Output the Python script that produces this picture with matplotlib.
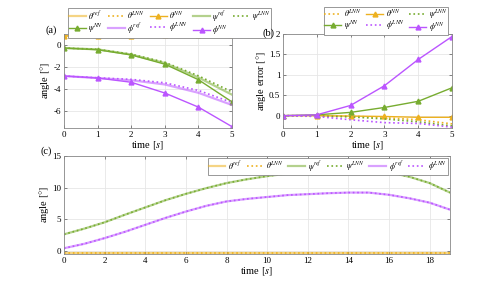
import numpy as np
import matplotlib
matplotlib.use('Agg')
import matplotlib.pyplot as plt

plt.rcParams['font.family'] = ['Liberation Serif', 'DejaVu Serif']
plt.rcParams['mathtext.fontset'] = 'stix'
plt.rcParams['axes.unicode_minus'] = False

# couleurs
c_th = '#EDB120'
c_psi = '#77AC30'
c_phi = '#BB55FF'

# (a) angles sur 5 s
t_a = [0, 1, 2, 3, 4, 5]
th_ref = [0.80, 0.80, 0.82, 0.84, 0.86, 0.88]
th_lnn = [0.80, 0.81, 0.83, 0.86, 0.90, 0.95]
th_nn = [0.80, 0.80, 0.82, 0.84, 0.86, 0.88]
psi_ref = [-0.30, -0.42, -0.88, -1.65, -2.95, -4.50]
psi_lnn = [-0.30, -0.41, -0.85, -1.58, -2.80, -4.25]
psi_nn = [-0.30, -0.45, -0.92, -1.75, -3.15, -5.15]
phi_ref = [-2.82, -3.00, -3.20, -3.58, -4.33, -5.43]
phi_lnn = [-2.82, -2.98, -3.12, -3.43, -4.12, -5.20]
phi_nn = [-2.82, -3.00, -3.38, -4.35, -5.62, -7.38]

# (b) erreurs
err_th_lnn = [0, 0.0, -0.01, -0.05, -0.10, -0.20]
err_th_nn = [0, 0.0, -0.01, -0.02, -0.04, -0.04]
err_psi_lnn = [0, -0.01, -0.03, -0.08, -0.15, -0.25]
err_psi_nn = [0, 0.02, 0.08, 0.20, 0.35, 0.68]
err_phi_lnn = [0, -0.02, -0.10, -0.17, -0.19, -0.28]
err_phi_nn = [0, 0.02, 0.25, 0.73, 1.37, 1.93]

# (c) simulation longue
t_c = list(range(20))
thc_ref = [-0.30] * 20
thc_lnn = [-0.32] * 20
psic_ref = [2.6, 3.5, 4.5, 5.7, 6.85, 8.0, 9.0, 9.9, 10.7, 11.3,
            11.8, 12.2, 12.5, 12.7, 12.8, 12.7, 12.4, 11.7, 10.7, 9.2]
psic_lnn = psic_ref
phic_ref = [0.4, 1.1, 2.0, 3.0, 4.1, 5.2, 6.2, 7.1, 7.8, 8.2,
            8.5, 8.8, 8.95, 9.1, 9.2, 9.2, 8.85, 8.3, 7.6, 6.5]
phic_lnn = phic_ref

W, H = 498, 285
fig = plt.figure(figsize=(W / 100, H / 100), dpi=100)
ax_a = fig.add_axes([0.1285, 0.551, 0.3373, 0.331])
ax_b = fig.add_axes([0.5683, 0.551, 0.3394, 0.331])
ax_c = fig.add_axes([0.1285, 0.109, 0.7751, 0.344])

ref_kw = dict(lw=1.6, alpha=0.55)
lnn_kw = dict(lw=1.2, ls=':')
nn_kw = dict(lw=1.0, marker='^', ms=3.5)
FS = 5.8
leg_kw = dict(fontsize=FS, handlelength=2.1, columnspacing=0.6,
              handletextpad=0.3, borderpad=0.1,
              frameon=True, fancybox=False, framealpha=1, edgecolor='#888888')

def style(ax):
    ax.grid(True, color='#e6e6e6', lw=0.6)
    ax.set_axisbelow(True)
    ax.tick_params(direction='in', top=True, right=True, labelsize=6.5,
                   length=2.5, width=0.5, color='#555555', pad=2)
    for s in ax.spines.values():
        s.set_color('#888888')
        s.set_linewidth(0.6)

# --- (a)
h = []
h += ax_a.plot(t_a, th_ref, color=c_th, label=r'$\theta^{ref}$', **ref_kw)
h += ax_a.plot(t_a, th_lnn, color=c_th, label=r'$\theta^{LNN}$', **lnn_kw)
h += ax_a.plot(t_a, th_nn, color=c_th, label=r'$\theta^{NN}$', **nn_kw)
h += ax_a.plot(t_a, psi_ref, color=c_psi, label=r'$\psi^{ref}$', **ref_kw)
h += ax_a.plot(t_a, psi_lnn, color=c_psi, label=r'$\psi^{LNN}$', **lnn_kw)
h += ax_a.plot(t_a, psi_nn, color=c_psi, label=r'$\psi^{NN}$', **nn_kw)
h += ax_a.plot(t_a, phi_ref, color=c_phi, label=r'$\phi^{ref}$', **ref_kw)
h += ax_a.plot(t_a, phi_lnn, color=c_phi, label=r'$\phi^{LNN}$', **lnn_kw)
h += ax_a.plot(t_a, phi_nn, color=c_phi, label=r'$\phi^{NN}$', **nn_kw)
ax_a.set_xlim(0, 5)
ax_a.set_ylim(-7.5, 1)
ax_a.set_yticks([-6, -4, -2, 0])
ax_a.set_xlabel(r'time $[s]$', fontsize=7.5, labelpad=1)
ax_a.set_ylabel(r'angle $[°]$', fontsize=7.5, labelpad=1)
style(ax_a)
fig.text(0.092, 0.895, '(a)', fontsize=7.5, va='center')

# --- (b)
g = []
g += ax_b.plot(t_a, err_th_lnn, color=c_th, label=r'$\theta^{LNN}$', **lnn_kw)
g += ax_b.plot(t_a, err_th_nn, color=c_th, label=r'$\theta^{NN}$', **nn_kw)
g += ax_b.plot(t_a, err_psi_lnn, color=c_psi, label=r'$\psi^{LNN}$', **lnn_kw)
g += ax_b.plot(t_a, err_psi_nn, color=c_psi, label=r'$\psi^{NN}$', **nn_kw)
g += ax_b.plot(t_a, err_phi_lnn, color=c_phi, label=r'$\phi^{LNN}$', **lnn_kw)
g += ax_b.plot(t_a, err_phi_nn, color=c_phi, label=r'$\phi^{NN}$', **nn_kw)
ax_b.set_xlim(0, 5)
ax_b.set_ylim(-0.3, 2)
ax_b.set_yticks([0, 0.5, 1, 1.5, 2])
ax_b.set_yticklabels(['0', '0.5', '1', '1.5', '2'])
ax_b.set_xlabel(r'time $[s]$', fontsize=7.5, labelpad=1)
ax_b.set_ylabel(r'angle error $[°]$', fontsize=7.5, labelpad=1)
style(ax_b)
fig.text(0.528, 0.885, '(b)', fontsize=7.5, va='center', zorder=10)

# --- (c)
ax_c.plot(t_c, thc_ref, color=c_th, label=r'$\theta^{ref}$', **ref_kw)
ax_c.plot(t_c, thc_lnn, color=c_th, label=r'$\theta^{LNN}$', **lnn_kw)
ax_c.plot(t_c, psic_ref, color=c_psi, label=r'$\psi^{ref}$', **ref_kw)
ax_c.plot(t_c, psic_lnn, color=c_psi, label=r'$\psi^{LNN}$', **lnn_kw)
ax_c.plot(t_c, phic_ref, color=c_phi, label=r'$\phi^{ref}$', **ref_kw)
ax_c.plot(t_c, phic_lnn, color=c_phi, label=r'$\phi^{LNN}$', **lnn_kw)
ax_c.set_xlim(0, 19)
ax_c.set_ylim(-0.5, 15)
ax_c.set_xticks([0, 2, 4, 6, 8, 10, 12, 14, 16, 18])
ax_c.set_yticks([0, 5, 10, 15])
ax_c.set_xlabel(r'time $[s]$', fontsize=7.5, labelpad=1)
ax_c.set_ylabel(r'angle $[°]$', fontsize=7.5, labelpad=1)
style(ax_c)
leg_c = ax_c.legend(loc='upper right', ncol=6, borderaxespad=0.3,
                    labelspacing=0.0, **leg_kw)
leg_c.get_frame().set_linewidth(0.6)
fig.text(0.082, 0.47, '(c)', fontsize=7.5, va='center')

# légendes du haut : hauteur ajustée (sans chevauchement des lignes)
ordre = [0, 5, 1, 6, 2, 7, 3, 8, 4]
ordre_b = [0, 3, 1, 4, 2, 5]

def legende_haut(handles, ncol, loc, x, top_px, bottom_px):
    fs_px = FS * 100 / 72
    ls = 0.0
    leg = None
    for _ in range(3):
        if leg is not None:
            leg.remove()
        leg = fig.legend(handles, [k.get_label() for k in handles], loc=loc,
                         bbox_to_anchor=(x, 1 - top_px / H), ncol=ncol,
                         labelspacing=ls, **leg_kw)
        fig.canvas.draw()
        hh = leg.get_window_extent(fig.canvas.get_renderer()).height
        ls = max(-0.05, ls + ((bottom_px - top_px) - hh) / fs_px)
    leg.get_frame().set_linewidth(0.6)
    return leg

leg_a = legende_haut([h[i] for i in ordre], 5, 'upper left', 0.1285, 4, 31)
leg_b = legende_haut([g[i] for i in ordre_b], 3, 'upper right', 0.907, 3, 31)

fig.savefig('out.png', dpi=100)
